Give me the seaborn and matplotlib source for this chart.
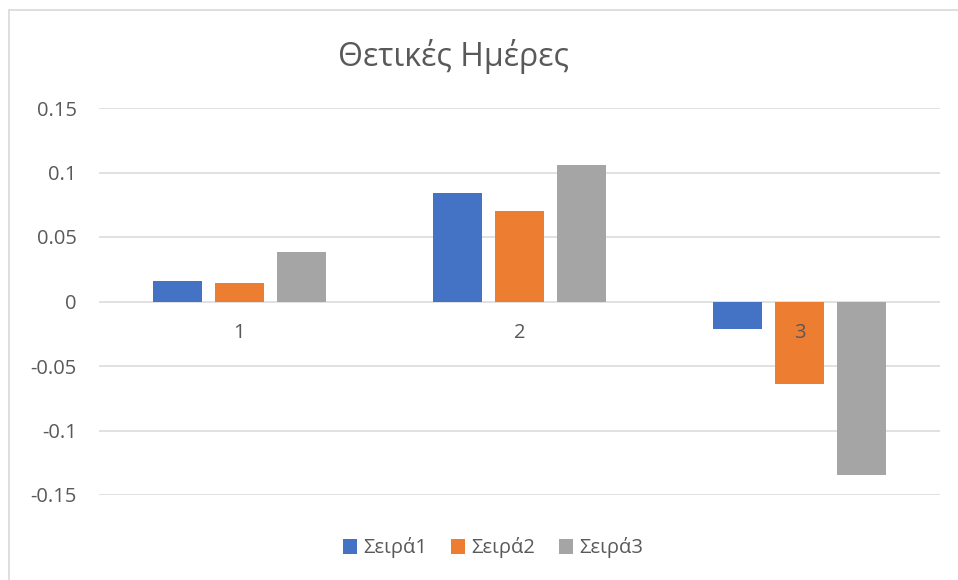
import matplotlib
matplotlib.use("Agg")
import matplotlib.pyplot as plt
from matplotlib.patches import Patch
from matplotlib.lines import Line2D
import seaborn as sns
import pandas as pd

# ---- data ----
categories = ["1", "2", "3"]
series_names = ["Σειρά1", "Σειρά2", "Σειρά3"]
seira1 = [0.0158, 0.0840, -0.0214]
seira2 = [0.0143, 0.0702, -0.0643]
seira3 = [0.0385, 0.1062, -0.1342]
y_ticks = [-0.15, -0.1, -0.05, 0, 0.05, 0.1, 0.15]
y_tick_labels = ["-0.15", "-0.1", "-0.05", "0", "0.05", "0.1", "0.15"]
title = "Θετικές Ημέρες"

colors = ["#4472C4", "#ED7D31", "#A5A5A5"]
text_color = "#595959"
grid_color = "#D9D9D9"

rows = []
for name, vals in zip(series_names, [seira1, seira2, seira3]):
    for c, v in zip(categories, vals):
        rows.append({"cat": c, "value": v, "series": name})
df = pd.DataFrame(rows)

sns.set_theme(style="white")
plt.rcParams["font.family"] = ["Open Sans", "DejaVu Sans"]

W, H = 958, 580
fig = plt.figure(figsize=(W / 100, H / 100), dpi=100)
left, right, top, bottom = 99, 940, 108, 495
ax = fig.add_axes([left / W, 1 - bottom / H, (right - left) / W, (bottom - top) / H])

sns.barplot(data=df, x="cat", y="value", hue="series", order=categories,
            hue_order=series_names, palette=colors, width=0.663, gap=0.21,
            ax=ax, legend=False, linewidth=0, saturation=1, errorbar=None)

fs = 14.5
ax.set_xlim(-0.5, len(categories) - 0.5)
ax.set_ylim(-0.15, 0.15)
ax.set_yticks(y_ticks)
ax.set_yticklabels(y_tick_labels, fontsize=fs, color=text_color)
ax.tick_params(axis="y", length=0, pad=16)
ax.set_xticks([])
ax.set_xlabel("")
ax.set_ylabel("")
for s in ax.spines.values():
    s.set_visible(False)
ax.set_axisbelow(True)
ax.yaxis.grid(True, color=grid_color, linewidth=1.1)
ax.xaxis.grid(False)

for i, c in enumerate(categories):
    ax.annotate(c, xy=(i, 0), xytext=(0, -22.5), textcoords="offset points",
                ha="center", va="center", fontsize=fs, color=text_color, zorder=10)

fig.text(453 / W, 1 - 56 / H, title, ha="center", va="center",
         fontsize=23, color=text_color)

handles = [Patch(facecolor=col, edgecolor="none", label=n) for col, n in zip(colors, series_names)]
fig.legend(handles=handles, loc="center", bbox_to_anchor=(493 / W, 1 - 548 / H),
           ncol=3, frameon=False, fontsize=fs, labelcolor=text_color,
           handlelength=0.7, handleheight=0.7, handletextpad=0.3, columnspacing=1.2)

# chart border (top and left visible)
fig.add_artist(Line2D([8.5 / W, 8.5 / W], [0, 1 - 9.5 / H], transform=fig.transFigure,
                      color=grid_color, linewidth=1.2))
fig.add_artist(Line2D([8.5 / W, 1], [1 - 9.5 / H, 1 - 9.5 / H], transform=fig.transFigure,
                      color=grid_color, linewidth=1.2))

fig.savefig("out.png", dpi=100, facecolor="white")
